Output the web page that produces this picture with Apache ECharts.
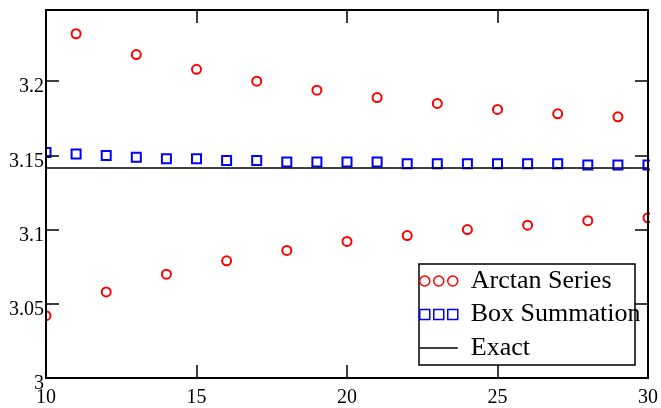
<!DOCTYPE html>
<html>
<head>
<meta charset="utf-8">
<script src="https://cdn.jsdelivr.net/npm/echarts@6/dist/echarts.min.js"></script>
<style>html,body{margin:0;padding:0;background:#fff;}#c{width:661px;height:408px;}</style>
</head>
<body>
<div id="c"></div>
<script>
var nValues = [10,11,12,13,14,15,16,17,18,19,20,21,22,23,24,25,26,27,28,29,30];
var arctanSeries = [3.042,3.232,3.058,3.218,3.070,3.208,3.079,3.200,3.086,3.194,3.092,3.189,3.096,3.185,3.100,3.181,3.103,3.178,3.106,3.176,3.108];
var boxSummation = [3.152,3.151,3.150,3.1488,3.1478,3.1478,3.1466,3.1466,3.1455,3.1455,3.1455,3.1455,3.1444,3.1444,3.1444,3.1444,3.1444,3.1444,3.1436,3.1436,3.1436];
var exactX = [10, 30];
var exactY = [3.1416, 3.1416];
var yTicks = [3, 3.05, 3.1, 3.15, 3.2];
var seriesNames = ['Arctan Series', 'Box Summation', 'Exact'];

function pairs(xs, ys){ return xs.map(function(x,i){ return [x, ys[i]]; }); }

var font = 'Liberation Serif';
var axisCommon = {
  type: 'value', min: 10, max: 30, interval: 5, z: 10,
  axisLine: {show: true, onZero: false, lineStyle: {color: '#000', width: 2}},
  axisTick: {show: true, inside: true, length: 13, lineStyle: {color: '#000', width: 1.5}},
  splitLine: {show: false}
};
var yCommon = {
  type: 'value', min: 3, max: 3.248, interval: 0.05, z: 10,
  axisLine: {show: true, onZero: false, lineStyle: {color: '#000', width: 2}},
  axisTick: {show: true, inside: true, length: 13, lineStyle: {color: '#000', width: 1.5}},
  splitLine: {show: false}
};

var chart = echarts.init(document.getElementById('c'));
chart.setOption({
  animation: false,
  backgroundColor: '#fff',
  grid: {left: 46, top: 10, right: 12, bottom: 28, containLabel: false},
  xAxis: [
    Object.assign({}, axisCommon, {position: 'bottom',
      axisLabel: {show: true, fontFamily: font, fontSize: 20, color: '#000', margin: 10}}),
    Object.assign({}, axisCommon, {position: 'top', axisLabel: {show: false}})
  ],
  yAxis: [
    Object.assign({}, yCommon, {position: 'left',
      axisLabel: {show: true, fontFamily: font, fontSize: 20, color: '#000', margin: 2,
        verticalAlign: 'top', lineHeight: 12,
        formatter: function(v){ return yTicks.indexOf(Math.round(v*100)/100) >= 0 ? String(Math.round(v*100)/100) : ''; }}}),
    Object.assign({}, yCommon, {position: 'right', axisLabel: {show: false}})
  ],
  legend: {
    orient: 'vertical', left: 419, top: 268, padding: 0, itemGap: 7.5,
    itemWidth: 38, itemHeight: 10, z: 8,
    textStyle: {fontFamily: font, fontSize: 26, color: '#000', lineHeight: 26, padding: [0,0,0,8]},
    data: [
      {name: seriesNames[0], icon: 'path://M0,5a5,5 0 1,0 10,0a5,5 0 1,0 -10,0M14,5a5,5 0 1,0 10,0a5,5 0 1,0 -10,0M28,5a5,5 0 1,0 10,0a5,5 0 1,0 -10,0',
        itemStyle: {color: 'transparent', borderColor: '#ff0000', borderWidth: 1.5, opacity: 1}},
      {name: seriesNames[1], icon: 'path://M0,0h10v10h-10zM14,0h10v10h-10zM28,0h10v10h-10z',
        itemStyle: {color: 'transparent', borderColor: '#0000ff', borderWidth: 1.5, opacity: 1}},
      {name: seriesNames[2], icon: 'path://M0,0h38v1.5h-38z',
        itemStyle: {color: '#000', borderWidth: 0, opacity: 1}}
    ]
  },
  graphic: [
    {type: 'rect', z: 6, silent: true, shape: {x: 0, y: 0, width: 45, height: 408}, style: {fill: '#fff'}},
    {type: 'rect', z: 6, silent: true, shape: {x: 650, y: 0, width: 11, height: 408}, style: {fill: '#fff'}},
    {type: 'rect', z: 7, silent: true, shape: {x: 419, y: 264, width: 216, height: 101}, style: {fill: '#fff', stroke: '#000', lineWidth: 1.5}}
  ],
  series: [
    {name: seriesNames[0], type: 'scatter', symbol: 'emptyCircle', symbolSize: 9,
      itemStyle: {color: '#ff0000', borderColor: '#ff0000', borderWidth: 2, opacity: 1},
      data: pairs(nValues, arctanSeries), clip: false},
    {name: seriesNames[1], type: 'scatter', symbol: 'emptyRect', symbolSize: 9,
      itemStyle: {color: '#0000ff', borderColor: '#0000ff', borderWidth: 2, opacity: 1},
      data: pairs(nValues, boxSummation), clip: false},
    {name: seriesNames[2], type: 'line', symbol: 'none', showSymbol: false,
      lineStyle: {color: '#000', width: 1.5}, itemStyle: {color: '#000'},
      data: pairs(exactX, exactY)}
  ]
});
</script>
</body>
</html>
